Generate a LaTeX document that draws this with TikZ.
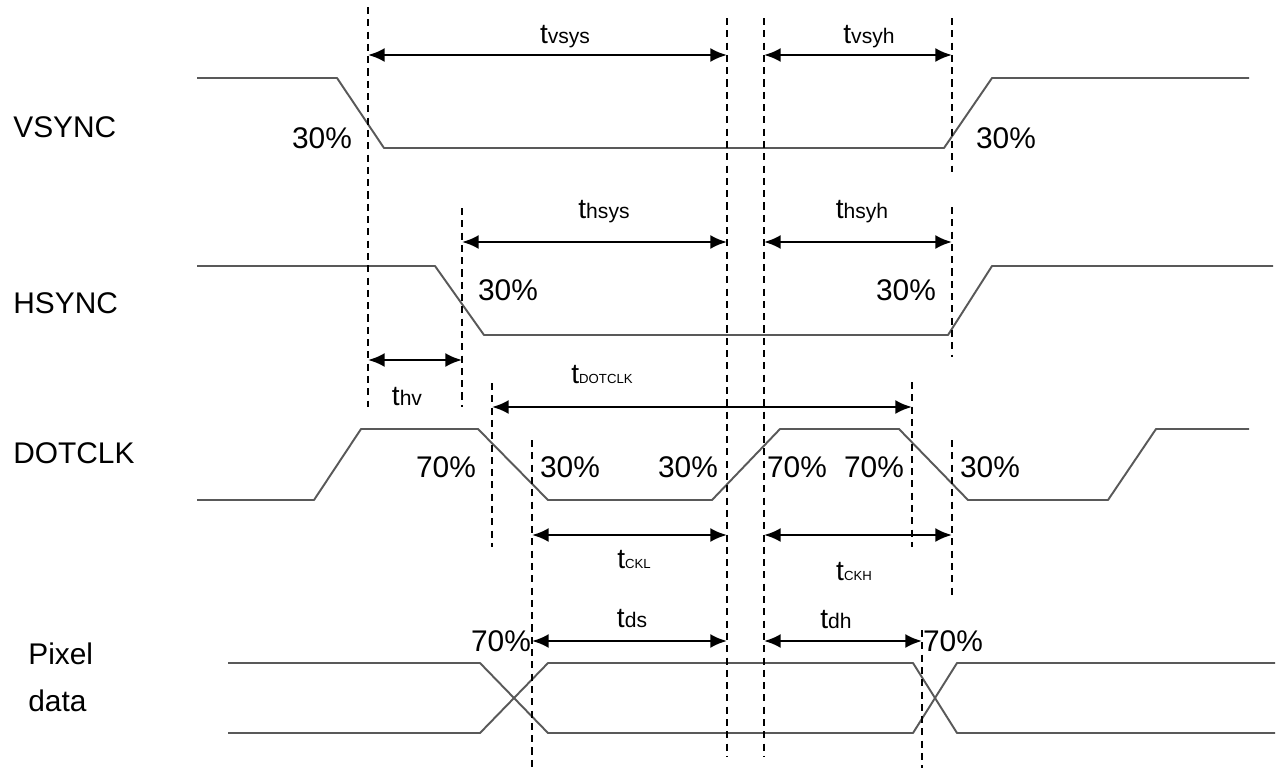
\documentclass[tikz,border=0pt]{standalone}
\usepackage{fontspec}
\setmainfont{Liberation Sans}
\usetikzlibrary{arrows.meta}
\tikzstyle{sig} = [line width=1.1pt, black!65, line join=round]
\tikzstyle{guide} = [line width=0.7pt, dash pattern=on 4pt off 3pt]
\tikzstyle{dimarrow} = [line width=1.5pt, {Latex[length=9.5pt,width=8pt]}-{Latex[length=9.5pt,width=8pt]}]
\tikzstyle{lbl} = [font=\fontsize{17}{20}\selectfont, inner sep=0pt]
\tikzstyle{pct} = [font=\fontsize{17}{20}\selectfont, inner sep=0pt]
\tikzstyle{tname} = [inner sep=0pt, anchor=base]
\newcommand{\tlow}[1]{{\fontsize{16}{18}\selectfont t}{\fontsize{12}{14}\selectfont #1}}
\newcommand{\tcap}[1]{{\fontsize{16}{18}\selectfont t}{\fontsize{7.5}{9}\selectfont #1}}
\begin{document}
\begin{tikzpicture}[x=0.02cm, y=-0.02cm]
\useasboundingbox (0,0) rectangle (1284,771);
% signal names
\node (vsync_lbl) [lbl, anchor=base west] at (13,137) {VSYNC};
\node (hsync_lbl) [lbl, anchor=base west] at (13,313) {HSYNC};
\node (dotclk_lbl) [lbl, anchor=base west] at (13,463) {DOTCLK};
\node (pix_lbl) [lbl, anchor=base west] at (28,664) {Pixel};
\node (data_lbl) [lbl, anchor=base west] at (28,711) {data};
% waveforms
\draw [sig] (197,78) -- (337,78) -- (384,148) -- (944,148) -- (992,78) -- (1249,78);
\draw [sig] (197,266) -- (435,266) -- (484,335) -- (948,335) -- (992,266) -- (1273,266);
\draw [sig] (197,500) -- (314,500) -- (361,429) -- (478,429) -- (548,500) -- (712,500)
  -- (780,429) -- (899,429) -- (968,500) -- (1108,500) -- (1156,429) -- (1249,429);
\draw [sig] (228,663) -- (480,663) -- (548,733) -- (913,733) -- (957,663) -- (1275,663);
\draw [sig] (228,733) -- (480,733) -- (548,663) -- (913,663) -- (957,733) -- (1275,733);
% guide lines
\draw [guide] (368,7) -- (368,407);
\draw [guide] (462,208) -- (462,407);
\draw [guide] (492,383) -- (492,547);
\draw [guide] (532,440) -- (532,768);
\draw [guide] (727,18) -- (727,757);
\draw [guide] (764,18) -- (764,757);
\draw [guide] (912,382) -- (912,547);
\draw [guide] (952,18) -- (952,172);
\draw [guide] (952,207) -- (952,357);
\draw [guide] (952,440) -- (952,595);
\draw [guide] (922,630) -- (922,768);
% arrow ends
\coordinate (vsys_l) at (368,55);
\coordinate (vsys_r) at (727,55);
\coordinate (vsyh_l) at (764,55);
\coordinate (vsyh_r) at (952,55);
\coordinate (hsys_l) at (462,242);
\coordinate (hsys_r) at (727,242);
\coordinate (hsyh_l) at (764,242);
\coordinate (hsyh_r) at (952,242);
\coordinate (hv_l) at (368,360);
\coordinate (hv_r) at (462,360);
\coordinate (dot_l) at (492,407);
\coordinate (dot_r) at (912,407);
\coordinate (ckl_l) at (532,535);
\coordinate (ckl_r) at (727,535);
\coordinate (ckh_l) at (764,535);
\coordinate (ckh_r) at (952,535);
\coordinate (ds_l) at (532,641);
\coordinate (ds_r) at (727,641);
\coordinate (dh_l) at (764,641);
\coordinate (dh_r) at (922,641);
\draw [dimarrow] (vsys_l) -- (vsys_r);
\draw [dimarrow] (vsyh_l) -- (vsyh_r);
\draw [dimarrow] (hsys_l) -- (hsys_r);
\draw [dimarrow] (hsyh_l) -- (hsyh_r);
\draw [dimarrow] (hv_l) -- (hv_r);
\draw [dimarrow] (dot_l) -- (dot_r);
\draw [dimarrow] (ckl_l) -- (ckl_r);
\draw [dimarrow] (ckh_l) -- (ckh_r);
\draw [dimarrow] (ds_l) -- (ds_r);
\draw [dimarrow] (dh_l) -- (dh_r);
% timing names
\node (vsys_t) [tname] at (565,43) {\tlow{vsys}};
\node (vsyh_t) [tname] at (869,43) {\tlow{vsyh}};
\node (hsys_t) [tname] at (604,218) {\tlow{hsys}};
\node (hsyh_t) [tname] at (862,218) {\tlow{hsyh}};
\node (hv_t) [tname] at (407,405) {\tlow{hv}};
\node (dot_t) [tname] at (602,383) {\tcap{DOTCLK}};
\node (ckl_t) [tname] at (634,568) {\tcap{CKL}};
\node (ckh_t) [tname] at (854,580) {\tcap{CKH}};
\node (ds_t) [tname] at (632,627) {\tlow{ds}};
\node (dh_t) [tname] at (836,628) {\tlow{dh}};
% levels
\node (v30a) [pct] at (322,138) {30\%};
\node (v30b) [pct] at (1006,138) {30\%};
\node (h30a) [pct] at (508,290) {30\%};
\node (h30b) [pct] at (906,290) {30\%};
\node (c70a) [pct] at (446,467) {70\%};
\node (c30a) [pct] at (570,467) {30\%};
\node (c30b) [pct] at (688,467) {30\%};
\node (c70b) [pct] at (797,467) {70\%};
\node (c70c) [pct] at (874,467) {70\%};
\node (c30c) [pct] at (990,467) {30\%};
\node (p70a) [pct] at (501,641) {70\%};
\node (p70b) [pct] at (953,641) {70\%};
\end{tikzpicture}
\end{document}
